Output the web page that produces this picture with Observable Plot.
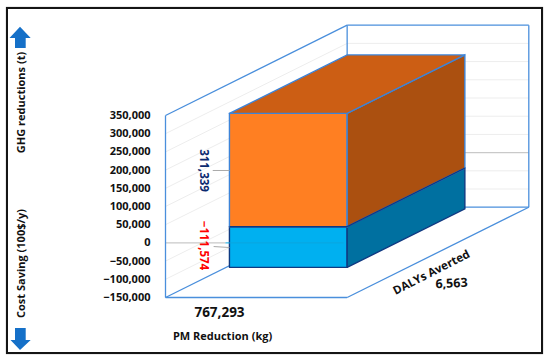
<!DOCTYPE html>
<html>
<head>
<meta charset="utf-8">
<script src="https://cdn.jsdelivr.net/npm/d3@7"></script>
<script src="https://cdn.jsdelivr.net/npm/@observablehq/plot@0.6"></script>
<style>
html,body{margin:0;padding:0;background:#fff;}
#wrap{position:relative;width:550px;height:362px;overflow:hidden;}
#wrap>svg.plot{position:absolute;left:0;top:0;}
#border{position:absolute;left:6px;top:7px;width:533px;height:343px;border:2.6px solid #151515;box-shadow:0 0 1px #888;pointer-events:none;}
#arrows{position:absolute;left:0;top:0;pointer-events:none;}
</style>
</head>
<body>
<div id="wrap"></div>
<script>
// Values
const ghgReduction = 311339;
const costSaving = -111574;
const pmReduction = 767293;
const dalysAverted = 6563;
const yTicks = [-150000,-100000,-50000,0,50000,100000,150000,200000,250000,300000,350000];
const yMin = -150000, yMax = 350000;
const pmMax = 1184000, dalyMax = 10128;
const depthRise = 248000;   // how far the back wall is lifted, in y units
const blockBase = -154500;  // the block sits just under the floor in the picture

const C = {frame:"#4A8FDC", grid:"#EDEDED", zero:"#C9C9C9", edgeO:"#3D84D8", edgeB:"#0F3A82",
  oFront:"#FF7F22", oTop:"#CC5E14", oSide:"#AB5010", bFront:"#00B0F0", bSide:"#0070A0"};

// oblique projection of (PM, DALY, value)
const P = (w,d,v) => ({px: w/pmMax + d/dalyMax, py: v + (d/dalyMax)*depthRise});

const w0 = 0, w1 = pmReduction, d1 = dalyMax, d0 = dalyMax - dalysAverted;
const vBase = blockBase, vMid = blockBase + Math.abs(costSaving), vTop = vMid + ghgReduction;

const face = (pts, fill, stroke, sw=1.4) => Plot.line([...pts, pts[0]], {
  x:"px", y:"py", fill, stroke, strokeWidth:sw, strokeLinejoin:"miter", strokeMiterlimit:4});
const seg = (rows, stroke, sw=1) => Plot.link(rows, {x1:"x1", y1:"y1", x2:"x2", y2:"y2", stroke, strokeWidth:sw});
const S = (a,b) => { const p=P(...a), q=P(...b); return {x1:p.px,y1:p.py,x2:q.px,y2:q.py}; };

const leftWall = yTicks.filter(v=>v>yMin&&v<yMax&&v!==0).map(v=>S([0,0,v],[0,dalyMax,v]));
const backWall = yTicks.filter(v=>v>yMin&&v<yMax&&v!==0).map(v=>S([0,dalyMax,v],[pmMax,dalyMax,v]));
const zeroLines = [S([0,dalyMax,0],[pmMax,dalyMax,0]), S([0,0,0],[pmMax*0.33,0,0])];

const frameRows = [
  S([0,0,yMin],[0,0,yMax]), S([0,0,yMin],[pmMax,0,yMin]),
  S([0,0,yMin],[0,dalyMax,yMin]), S([pmMax,0,yMin],[pmMax,dalyMax,yMin]),
  S([0,0,yMax],[0,dalyMax,yMax]), S([0,dalyMax,yMin],[0,dalyMax,yMax]),
  S([0,dalyMax,yMax],[pmMax,dalyMax,yMax]), S([pmMax,dalyMax,yMin],[pmMax,dalyMax,yMax]),
  S([0,dalyMax,yMin],[pmMax,dalyMax,yMin])
];

// leader lines: from beside each value label to the block's front face
const leaderLeftGhg = pmMax*0.26, leaderLeftCost = pmMax*0.265, faceLeft = d0/dalyMax*pmMax;
const leaderRows = [
  {x1:leaderLeftGhg/pmMax, x2:faceLeft/pmMax, y1:198900, y2:198900},
  {x1:leaderLeftCost/pmMax, x2:faceLeft/pmMax, y1:-10000, y2:-12700}
];

const label = (text, dx, dy, o={}) => Plot.text([text], {
  frameAnchor:"top-left", dx:dx-165, dy:dy-24.7, text:d=>d, fontWeight:"bold",
  fontSize:11, fill:"#111", textAnchor:"middle", lineAnchor:"middle", ...o});

const chart = Plot.plot({
  width:550, height:362,
  marginLeft:165, marginRight:21.7, marginTop:24.7, marginBottom:65,
  style:{fontFamily:"'Open Sans',sans-serif", background:"#fff", overflow:"visible"},
  x:{domain:[0,2], axis:null},
  y:{domain:[yMin, yMax+depthRise], axis:null},
  marks:[
    seg(leftWall, C.grid), seg(backWall, C.grid), seg(zeroLines, C.zero, 1.2),
    seg(frameRows, C.frame, 1.3),
    Plot.axisY({ticks:yTicks, anchor:"left", tickSize:0, tickPadding:15, label:null,
      tickFormat:d3.format(","), fontSize:11, fontWeight:"bold", fill:"#111"}),
    // blue block
    face([P(w0,d0,vBase),P(w1,d0,vBase),P(w1,d0,vMid),P(w0,d0,vMid)], C.bFront, C.edgeB),
    face([P(w1,d0,vBase),P(w1,d1,vBase),P(w1,d1,vMid),P(w1,d0,vMid)], C.bSide, C.edgeB),
    // orange block
    face([P(w0,d0,vMid),P(w1,d0,vMid),P(w1,d0,vTop),P(w0,d0,vTop)], C.oFront, C.edgeO),
    face([P(w1,d0,vMid),P(w1,d1,vMid),P(w1,d1,vTop),P(w1,d0,vTop)], C.oSide, C.edgeO),
    face([P(w0,d0,vTop),P(w1,d0,vTop),P(w1,d1,vTop),P(w0,d1,vTop)], C.oTop, C.edgeO),
    seg([S([w0,d0,vMid],[w1,d0,vMid]), S([w1,d0,vMid],[w1,d1,vMid])], C.edgeB, 1.4),
    seg([S([pmMax*0.33,0,0],[pmMax*0.98,0,0])], "#0AA5DF", 1),
    // leaders
    seg(leaderRows, "#AAAAAA", 1),
    // labels
    label(d3.format(",")(ghgReduction), 203, 170, {rotate:90, fill:"#0B2A6F", fontSize:11.5}),
    label(d3.format(",")(costSaving), 203, 245, {rotate:90, fill:"#FF0000", fontSize:11.5}),
    label("GHG reductions (t)", 21, 102, {rotate:-90, fontSize:11}),
    label("Cost Saving (100$/y)", 21, 263, {rotate:-90, fontSize:11}),
    label(d3.format(",")(pmReduction), 219, 312, {fontSize:13.5}),
    label("PM Reduction (kg)", 222, 336, {fontSize:11}),
    label("DALYs Averted", 431, 272, {rotate:-27, fontSize:11.5}),
    label(d3.format(",")(dalysAverted), 451, 283, {rotate:-3, fontSize:12.5})
  ]
});
const wrap = document.getElementById("wrap");
wrap.appendChild(chart);
wrap.insertAdjacentHTML("beforeend", `<div id="border"></div>
<svg id="arrows" width="550" height="362">
 <polygon fill="#1570C8" points="20,26.7 30.7,38 25.7,38 25.7,48 15,48 15,38 9.5,38"/>
 <polygon fill="#1570C8" points="20,350 30.7,340 25.7,340 25.7,328 15,328 15,340 10.5,340"/>
</svg>`);
</script>
</body>
</html>
